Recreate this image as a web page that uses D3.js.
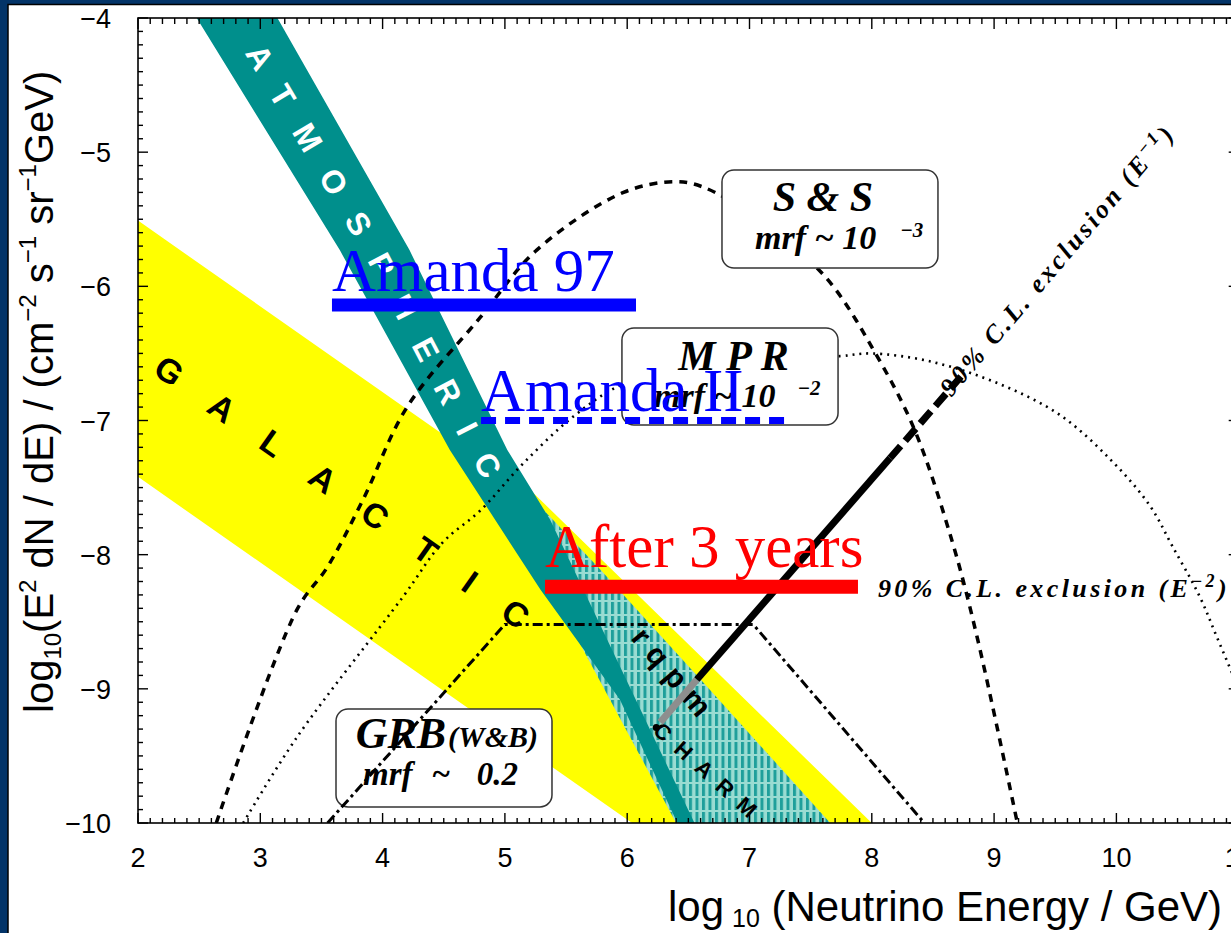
<!DOCTYPE html>
<html>
<head>
<meta charset="utf-8">
<script src="https://cdn.jsdelivr.net/npm/d3@7/dist/d3.min.js"></script>
<style>
  html, body { margin: 0; padding: 0; background: #033468; overflow: hidden; }
  svg { display: block; }
</style>
</head>
<body>
<svg id="chart" width="1231" height="933"></svg>
<script>
// ---- axis ticks ----
const xTickValues = [2, 3, 4, 5, 6, 7, 8, 9, 10, 11];
const xTickLabels = ["2", "3", "4", "5", "6", "7", "8", "9", "10", "11"];
const yTickValues = [-10, -9, -8, -7, -6, -5, -4];
const yTickLabels = ["\u221210", "\u22129", "\u22128", "\u22127", "\u22126", "\u22125", "\u22124"];

// ---- flux bands: [log10(E/GeV), log10(E^2 dN/dE)] ----
const galacticUpper = [[2.0, -5.51], [4.55, -7.14], [5.21, -7.52], [8.0, -10.0]];
const galacticLower = [[2.0, -7.42], [6.04, -10.0]];
const atmosphericLower = [[2.48, -4.0], [3.65, -5.73], [4.55, -7.22], [5.29, -8.26], [5.94, -9.08], [6.41, -10.0]];
const atmosphericUpper = [[3.14, -4.0], [4.22, -5.73], [5.02, -7.22], [5.37, -7.74], [6.55, -10.0]];
const promptCharmUpper = [[5.24, -7.62], [5.33, -7.68], [5.78, -8.11], [6.60, -8.93], [7.66, -10.0]];
const promptCharmLower = [[6.40, -10.0], [5.0, -7.62]];

// ---- model predictions ----
const ssModel = [[2.64, -10.0], [3.30, -8.41], [3.55, -8.09], [3.84, -7.59], [4.20, -6.90], [4.80, -6.23],
  [5.26, -5.73], [5.97, -5.30], [6.39, -5.22], [6.62, -5.26], [7.09, -5.51], [7.63, -5.94],
  [8.03, -6.50], [8.35, -7.07], [8.66, -7.91], [8.86, -8.61], [9.19, -10.0]];
const mprModel = [[2.86, -10.0], [3.30, -9.36], [4.17, -8.31], [4.49, -7.91], [4.80, -7.67], [5.15, -7.32],
  [5.56, -6.97], [5.96, -6.73], [6.60, -6.56], [7.74, -6.52], [7.99, -6.50], [8.48, -6.56],
  [9.05, -6.73], [9.54, -6.96], [9.95, -7.29], [10.27, -7.63], [10.46, -7.94], [10.68, -8.31],
  [10.82, -8.61], [11.0, -9.0]];
const grbModel = [[3.55, -10.0], [5.0, -8.52], [7.03, -8.52], [8.43, -10.0]];

// ---- 90% C.L. exclusion for an E^-1 spectrum ----
const exclusionE1Faint = [[6.27, -9.25], [6.57, -8.93]];
const exclusionE1Solid = [[6.57, -8.93], [8.15, -7.28]];
const exclusionE1Dashed = [[8.15, -7.28], [8.76, -6.64]];

// ---- sensitivity levels ----
const amanda97Range = [3.586, 6.072];
const amanda97Level = -6.14;
const amanda2Range = [4.805, 7.331];
const amanda2Level = -7.0;
const after3yRange = [5.328, 7.887];
const after3yLevel = -8.24;

// ---------------------------------------------------------------
const svg = d3.select("#chart");
const x = d3.scaleLinear().domain([2, 11]).range([138, 1238.7]);
const y = d3.scaleLinear().domain([-10, -4]).range([823, 18]);
const line = d3.line().x(d => x(d[0])).y(d => y(d[1]));
const smooth = d3.line().x(d => x(d[0])).y(d => y(d[1])).curve(d3.curveCatmullRom.alpha(0.5));

const SERIF = "'Liberation Serif', 'Times New Roman', serif";
const SANS = "'Liberation Sans', Arial, Helvetica, sans-serif";

const defs = svg.append("defs");
defs.append("clipPath").attr("id", "plotClip").append("rect")
  .attr("x", x(2)).attr("y", y(-4)).attr("width", x(11) - x(2)).attr("height", y(-10) - y(-4));

const hatch = defs.append("pattern").attr("id", "charmHatch")
  .attr("patternUnits", "userSpaceOnUse").attr("width", 6.5).attr("height", 14);
hatch.append("rect").attr("width", 6.5).attr("height", 14).attr("fill", "#9adcd2");
hatch.append("rect").attr("x", 0).attr("width", 3).attr("height", 12).attr("fill", "#1f9f9b");

// white sheet with thin black edge
svg.append("rect").attr("x", 8).attr("y", 4.5).attr("width", 1400).attr("height", 1100)
  .attr("fill", "#fff").attr("stroke", "#000").attr("stroke-width", 1.5);

const plot = svg.append("g").attr("clip-path", "url(#plotClip)");

// bands
plot.append("path")
  .attr("d", line(galacticUpper.concat(galacticLower.slice().reverse())) + "Z")
  .attr("fill", "#ffff00");
plot.append("path")
  .attr("d", line(promptCharmUpper.concat(promptCharmLower)) + "Z")
  .attr("fill", "url(#charmHatch)");
plot.append("path")
  .attr("d", line(atmosphericLower.concat(atmosphericUpper.slice().reverse())) + "Z")
  .attr("fill", "#008f8c");

// x position of a band edge at a given flux value
function edgeX(edge, v) {
  for (let i = 0; i < edge.length - 1; i++) {
    const a = edge[i], b = edge[i + 1];
    if ((v <= a[1] && v >= b[1]) || (v >= a[1] && v <= b[1])) {
      const t = (v - a[1]) / (b[1] - a[1]);
      return a[0] + t * (b[0] - a[0]);
    }
  }
  return edge[edge.length - 1][0];
}

// midline of the atmospheric band, used for its lettering
const atmoMid = d3.range(-4, -10.001, -0.1).map(v => [(edgeX(atmosphericLower, v) + edgeX(atmosphericUpper, v)) / 2, v]);
defs.append("path").attr("id", "atmoPath").attr("d", smooth(atmoMid));
plot.append("text")
  .attr("font-family", SANS).attr("font-weight", "bold").attr("font-size", 32)
  .attr("fill", "#fff").attr("letter-spacing", 25.6).attr("dy", "0.36em")
  .append("textPath").attr("href", "#atmoPath").attr("startOffset", 34)
  .text("ATMOSPHERIC");

// midline of the galactic band
const galMidStart = [2, (galacticUpper[0][1] + galacticLower[0][1]) / 2];
const galSlope = (galacticLower[1][1] - galacticLower[0][1]) / (galacticLower[1][0] - galacticLower[0][0]);
defs.append("path").attr("id", "galPath")
  .attr("d", line([galMidStart, [6.5, galMidStart[1] + galSlope * 4.5]]));
plot.append("text")
  .attr("font-family", SANS).attr("font-weight", "bold").attr("font-size", 34)
  .attr("fill", "#000").attr("letter-spacing", 39).attr("dy", "0.36em")
  .append("textPath").attr("href", "#galPath").attr("startOffset", 25)
  .text("GALACTIC");

// prompt charm lettering
defs.append("path").attr("id", "charmPath1").attr("d", line([[6.07, -8.55], [6.77, -9.31]]));
plot.append("text")
  .attr("font-family", SANS).attr("font-weight", "bold").attr("font-size", 30)
  .attr("fill", "#000").attr("letter-spacing", 10).attr("dy", "0.36em")
  .append("textPath").attr("href", "#charmPath1").attr("startOffset", 4)
  .text("rqpm");
defs.append("path").attr("id", "charmPath2").attr("d", line([[6.22, -9.26], [7.21, -10.07]]));
plot.append("text")
  .attr("font-family", SANS).attr("font-weight", "bold").attr("font-size", 22)
  .attr("fill", "#000").attr("letter-spacing", 12).attr("dy", "0.36em")
  .append("textPath").attr("href", "#charmPath2").attr("startOffset", 4)
  .text("CHARM");

// model curves (drawn under their labelled boxes)
plot.append("path").attr("d", smooth(ssModel)).attr("fill", "none")
  .attr("stroke", "#000").attr("stroke-width", 3.5).attr("stroke-dasharray", "8,7");
plot.append("path").attr("d", smooth(mprModel)).attr("fill", "none")
  .attr("stroke", "#000").attr("stroke-width", 2.6).attr("stroke-dasharray", "2,5");

// labelled boxes
function modelBox(x0, x1, y0, y1) {
  plot.append("rect")
    .attr("x", x(x0)).attr("y", y(y0))
    .attr("width", x(x1) - x(x0)).attr("height", y(y1) - y(y0))
    .attr("rx", 12).attr("fill", "#fff").attr("stroke", "#333").attr("stroke-width", 1.5);
}
function boxText(px, py, size, str, anchor) {
  return plot.append("text").attr("x", px).attr("y", py)
    .attr("font-family", SERIF).attr("font-style", "italic").attr("font-weight", "bold")
    .attr("font-size", size).attr("fill", "#000").attr("text-anchor", anchor || "start").text(str);
}

modelBox(6.775, 8.541, -5.133, -5.863);
boxText(x(7.6), y(-5.44), 42, "S & S", "middle");
boxText(x(7.045), y(-5.72), 34, "mrf ~ 10");
boxText(x(8.23), y(-5.63), 21, "\u22123");

modelBox(5.957, 7.724, -6.311, -7.033);
boxText(x(6.87), y(-6.62), 42, "M P R", "middle");
boxText(x(6.22), y(-6.90), 34, "mrf ~ 10");
boxText(x(7.39), y(-6.81), 21, "\u22122");

modelBox(3.619, 5.385, -9.150, -9.880);
boxText(x(3.78), y(-9.44), 44, "GRB");
boxText(x(4.535), y(-9.43), 30, "(W&B)");
boxText(x(3.84), y(-9.72), 33, "mrf");
boxText(x(4.40), y(-9.72), 33, "~");
boxText(x(4.77), y(-9.72), 33, "0.2");

// GRB model passes over its box
plot.append("path").attr("d", line(grbModel)).attr("fill", "none")
  .attr("stroke", "#000").attr("stroke-width", 3).attr("stroke-dasharray", "10,4,3,4");

// E^-1 exclusion
plot.append("path").attr("d", line(exclusionE1Faint)).attr("fill", "none")
  .attr("stroke", "#8e8e8e").attr("stroke-width", 7);
plot.append("circle").attr("cx", x(exclusionE1Faint[0][0]) - 4).attr("cy", y(exclusionE1Faint[0][1]) + 5)
  .attr("r", 3.5).attr("fill", "#000");
plot.append("path").attr("d", line(exclusionE1Solid)).attr("fill", "none")
  .attr("stroke", "#000").attr("stroke-width", 7);
plot.append("path").attr("d", line(exclusionE1Dashed)).attr("fill", "none")
  .attr("stroke", "#000").attr("stroke-width", 7).attr("stroke-dasharray", "16,7");

// exclusion captions
const capE2 = plot.append("text").attr("x", x(8.05)).attr("y", y(-8.315))
  .attr("font-family", SERIF).attr("font-style", "italic").attr("font-weight", "bold")
  .attr("font-size", 26).attr("letter-spacing", 3.4).attr("fill", "#000");
capE2.append("tspan").text("90% C.L. exclusion (E");
capE2.append("tspan").attr("font-size", 18).attr("dy", -10).text("\u22122");
capE2.append("tspan").attr("dy", 10).text(")");

const capE1 = plot.append("text")
  .attr("transform", `translate(${x(8.65)},${y(-6.83)}) rotate(-49.5)`)
  .attr("font-family", SERIF).attr("font-style", "italic").attr("font-weight", "bold")
  .attr("font-size", 26).attr("letter-spacing", 3.2).attr("fill", "#000");
capE1.append("tspan").text("90% C.L. exclusion (E");
capE1.append("tspan").attr("font-size", 18).attr("dy", -10).text("\u22121");
capE1.append("tspan").attr("dy", 10).text(")");

// ---- frame and ticks ----
const axes = svg.append("g");
axes.append("rect").attr("x", x(2)).attr("y", y(-4)).attr("width", x(11) - x(2)).attr("height", y(-10) - y(-4))
  .attr("fill", "none").attr("stroke", "#000").attr("stroke-width", 1.6);

const xMinor = d3.range(20, 111).map(d => d / 10);
const yMinor = d3.range(-100, -39).map(d => d / 10);
const tick = axes.append("g").attr("stroke", "#000").attr("stroke-width", 1.4);
xMinor.forEach(v => {
  const major = Math.abs(v - Math.round(v)) < 1e-6;
  const px = x(v);
  tick.append("line").attr("x1", px).attr("x2", px).attr("y1", y(-4)).attr("y2", y(-4) + (major ? 11 : 6));
  tick.append("line").attr("x1", px).attr("x2", px).attr("y1", y(-10)).attr("y2", y(-10) - (major ? 10 : 5));
});
yMinor.forEach(v => {
  const major = Math.abs(v - Math.round(v)) < 1e-6;
  const py = y(v);
  tick.append("line").attr("x1", x(2)).attr("x2", x(2) + (major ? 10 : 5)).attr("y1", py).attr("y2", py);
  tick.append("line").attr("x1", x(11)).attr("x2", x(11) - (major ? 10 : 5)).attr("y1", py).attr("y2", py);
});

axes.selectAll("text.xt").data(xTickValues).join("text").attr("class", "xt")
  .attr("x", d => x(d)).attr("y", 867).attr("text-anchor", "middle")
  .attr("font-family", SANS).attr("font-size", 27).attr("fill", "#000")
  .text((d, i) => xTickLabels[i]);
axes.selectAll("text.yt").data(yTickValues).join("text").attr("class", "yt")
  .attr("x", 111).attr("y", d => y(d) + 10).attr("text-anchor", "end")
  .attr("font-family", SANS).attr("font-size", 27).attr("fill", "#000")
  .text((d, i) => yTickLabels[i]);

// axis titles
const xt = svg.append("text").attr("x", 668).attr("y", 921)
  .attr("font-family", SANS).attr("font-size", 42).attr("fill", "#000");
xt.append("tspan").text("log");
xt.append("tspan").attr("font-size", 25).attr("dx", 8).attr("dy", 6).text("10");
xt.append("tspan").attr("dy", -6).text(" (Neutrino Energy / GeV)");

const yt = svg.append("text").attr("transform", "translate(53,713) rotate(-90)")
  .attr("font-family", SANS).attr("font-size", 40).attr("fill", "#000");
yt.append("tspan").text("log");
yt.append("tspan").attr("font-size", 24).attr("dy", 8).text("10");
yt.append("tspan").attr("dy", -8).text("(E");
yt.append("tspan").attr("font-size", 24).attr("dy", -17).text("2");
yt.append("tspan").attr("dy", 17).text(" dN / dE) / (cm");
yt.append("tspan").attr("font-size", 24).attr("dy", -17).text("\u22122");
yt.append("tspan").attr("dy", 17).text(" s");
yt.append("tspan").attr("font-size", 24).attr("dy", -17).text("\u22121");
yt.append("tspan").attr("dy", 17).text(" sr");
yt.append("tspan").attr("font-size", 24).attr("dy", -17).text("\u22121");
yt.append("tspan").attr("dy", 17).text("GeV)");

// ---- sensitivity bars with their labels ----
const sens = svg.append("g");
function sensBar(range, level, color, thick, dash, label, gap) {
  sens.append("line").attr("x1", x(range[0])).attr("x2", x(range[1]))
    .attr("y1", y(level)).attr("y2", y(level))
    .attr("stroke", color).attr("stroke-width", thick).attr("stroke-dasharray", dash);
  sens.append("text").attr("x", x(range[0])).attr("y", y(level) - thick / 2 - gap)
    .attr("font-family", SERIF).attr("font-size", 61).attr("fill", color).text(label);
}
sensBar(amanda97Range, amanda97Level, "#0000ff", 13, null, "Amanda 97", 8);
sensBar(amanda2Range, amanda2Level, "#0000ff", 7, "15,9", "Amanda II", 6);
sensBar(after3yRange, after3yLevel, "#ff0000", 14, null, "After 3 years", 13);
</script>
</body>
</html>
